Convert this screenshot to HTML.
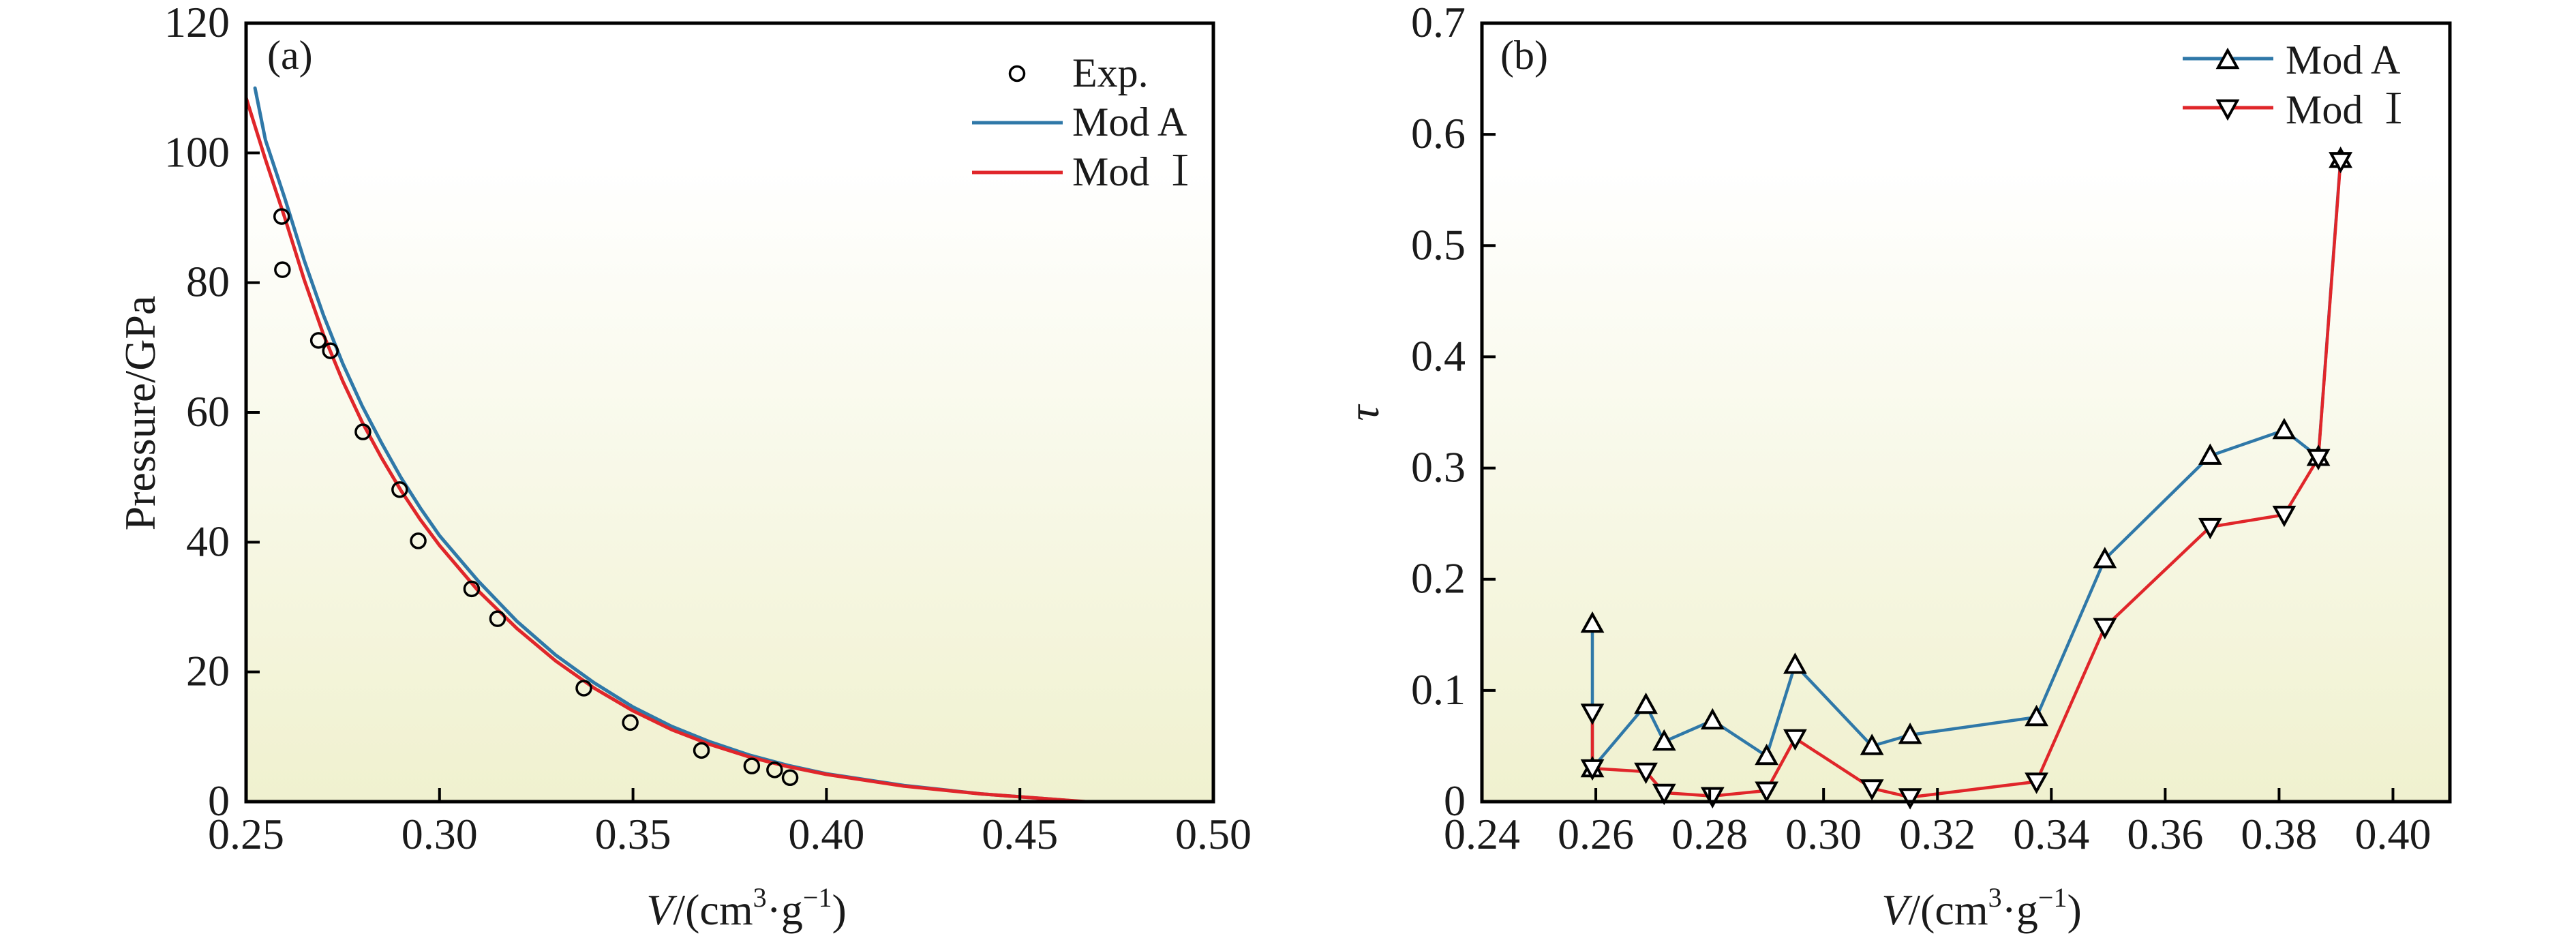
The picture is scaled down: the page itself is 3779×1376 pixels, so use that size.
<!DOCTYPE html>
<html><head><meta charset="utf-8">
<style>
html,body{margin:0;padding:0;background:#fff;}
svg{display:block;}
svg text{font-family:"Liberation Serif","Noto Serif CJK SC",serif;}
</style></head>
<body>
<svg id="fig" width="3779" height="1376" viewBox="0 0 3779 1376" xmlns="http://www.w3.org/2000/svg" font-family="Liberation Serif, Noto Serif CJK SC, serif">
<defs>
<linearGradient id="bg" x1="0" y1="0" x2="0" y2="1">
<stop offset="0" stop-color="#ffffff"/>
<stop offset="0.18" stop-color="#ffffff"/>
<stop offset="1" stop-color="#f0f1cf"/>
</linearGradient>
</defs>
<g id="pa"></g>
<g id="pb"></g>
</svg>
<script>
// Panel (a) data
const expV = [0.2592,0.2594,0.2687,0.2718,0.2802,0.2897,0.2945,0.3083,0.3150,0.3373,0.3493,0.3677,0.3807,0.3866,0.3906];
const expP = [90.2,82.0,71.1,69.5,57.0,48.1,40.2,32.8,28.2,17.5,12.2,7.9,5.5,4.9,3.7];
const modAV = [0.2523,0.255,0.26,0.265,0.27,0.275,0.28,0.285,0.29,0.295,0.30,0.31,0.32,0.33,0.34,0.35,0.36,0.37,0.38,0.39,0.40,0.42,0.44,0.46,0.466];
const modAP = [110,102,93,83.5,75,67.5,61,55.3,50,45.3,41,34,27.8,22.6,18.3,14.6,11.6,9.2,7.2,5.6,4.3,2.5,1.2,0.3,0];
const modIV = [0.25,0.255,0.26,0.265,0.27,0.275,0.28,0.285,0.29,0.295,0.30,0.31,0.32,0.33,0.34,0.35,0.36,0.37,0.38,0.39,0.40,0.42,0.44,0.46,0.467];
const modIP = [108.5,99,90,80.5,72,64.8,58.5,53,48,43.5,39.5,32.5,26.7,21.7,17.5,14,11.1,8.8,6.9,5.4,4.2,2.4,1.2,0.3,0];
const aXTicks = [0.25,0.30,0.35,0.40,0.45,0.50];
const aXLabels = ["0.25","0.30","0.35","0.40","0.45","0.50"];
const aYTicks = [0,20,40,60,80,100,120];
const aYLabels = ["0","20","40","60","80","100","120"];
// Panel (b) data
const tauV = [0.2594,0.2594,0.2688,0.2720,0.2805,0.2900,0.2950,0.3085,0.3152,0.3374,0.3494,0.3679,0.3809,0.3869,0.3908];
const tauA = [0.160,0.030,0.087,0.054,0.073,0.041,0.123,0.050,0.060,0.076,0.218,0.311,0.334,0.310,0.578];
const tauI = [0.080,0.030,0.027,0.008,0.005,0.010,0.057,0.012,0.004,0.018,0.157,0.247,0.258,0.309,0.576];
const bXTicks = [0.24,0.26,0.28,0.30,0.32,0.34,0.36,0.38,0.40];
const bXLabels = ["0.24","0.26","0.28","0.30","0.32","0.34","0.36","0.38","0.40"];
const bYTicks = [0,0.1,0.2,0.3,0.4,0.5,0.6,0.7];
const bYLabels = ["0","0.1","0.2","0.3","0.4","0.5","0.6","0.7"];

const NS = "http://www.w3.org/2000/svg";
const FF = '"Liberation Serif","Noto Serif CJK SC",serif';
function mk(parent, tag, attrs, text){
  const e = document.createElementNS(NS, tag);
  for (const k in attrs) e.setAttribute(k, attrs[k]);
  if (tag === "text") e.style.fontFamily = FF;
  if (text !== undefined) e.textContent = text;
  parent.appendChild(e);
  return e;
}
const BLUE = "#2f78a8", RED = "#e0262a";

function drawPanel(g, cfg){
  const {L,R,T,B,x0,x1,y0,y1} = cfg;
  const sx = v => L + (v - x0) / (x1 - x0) * (R - L);
  const sy = v => B - (v - y0) / (y1 - y0) * (B - T);
  const bg = mk(g, "rect", {x:L, y:T, width:R-L, height:B-T, fill:"url(#bg)"});
  
  
  return {sx, sy};
}
function drawFrame(g, cfg, xt, xl, yt, yl, sx, sy){
  const {L,R,T,B} = cfg;
  xt.forEach((v,i)=>{
    const x = sx(v);
    if (Math.abs(x-L) > 2 && Math.abs(x-R) > 2) {
      const t = mk(g, "line", {x1:x, x2:x, y1:B, y2:B-20, stroke:"#000", "stroke-width":4});
      
      
    }
    const lb = mk(g, "text", {x:x, y:1245, "font-size":64, "text-anchor":"middle", fill:"#1a1a1a"}, xl[i]);
    
    
  });
  yt.forEach((v,i)=>{
    const y = sy(v);
    if (Math.abs(y-B) > 2 && Math.abs(y-T) > 2) {
      const t = mk(g, "line", {x1:L, x2:L+20, y1:y, y2:y, stroke:"#000", "stroke-width":4});
      
      
    }
    const lb = mk(g, "text", {x:L-24, y:y+20, "font-size":64, "text-anchor":"end", fill:"#1a1a1a"}, yl[i]);
    
    
  });
  const f = mk(g, "rect", {x:L, y:T, width:R-L, height:B-T, fill:"none", stroke:"#000", "stroke-width":5});
  
  
}
function pathD(xs, ys, sx, sy){
  return xs.map((v,i)=>(i?"L":"M")+sx(v).toFixed(1)+","+sy(ys[i]).toFixed(1)).join(" ");
}
function tri(g, cx, cy, up, name){
  const s = 14;
  const pts = up
    ? [[cx,cy-s],[cx-s,cy+s*0.8],[cx+s,cy+s*0.8]]
    : [[cx,cy+s],[cx-s,cy-s*0.8],[cx+s,cy-s*0.8]];
  const p = mk(g, "polygon", {points: pts.map(p=>p.join(",")).join(" "), fill:"#fff", stroke:"#000", "stroke-width":4, "stroke-linejoin":"miter"});
  
  
  return p;
}
const xTitle = '<tspan font-style="italic">V</tspan>/(cm<tspan font-size="40" dy="-26">3</tspan><tspan dy="26">·g</tspan><tspan font-size="40" dy="-26">−1</tspan><tspan dy="26">)</tspan>';

// ---------- Panel (a)
const ga = document.getElementById("pa");
const cfgA = {L:361, R:1780, T:34, B:1176, x0:0.25, x1:0.50, y0:0, y1:120};
const A = drawPanel(ga, cfgA);
const curveA = mk(ga, "path", {d:pathD(modAV, modAP, A.sx, A.sy), fill:"none", stroke:BLUE, "stroke-width":5, "stroke-linecap":"round", "stroke-linejoin":"round"});


const curveI = mk(ga, "path", {d:pathD(modIV, modIP, A.sx, A.sy), fill:"none", stroke:RED, "stroke-width":5, "stroke-linecap":"round", "stroke-linejoin":"round"});


expV.forEach((v,i)=>{
  const c = mk(ga, "circle", {cx:A.sx(v), cy:A.sy(expP[i]), r:10.5, fill:"none", stroke:"#000", "stroke-width":3.5});
  
  
});
drawFrame(ga, cfgA, aXTicks, aXLabels, aYTicks, aYLabels, A.sx, A.sy);
let t;
t = mk(ga, "text", {x:392, y:101, "font-size":60, fill:"#1a1a1a"}, "(a)");
 
t = mk(ga, "text", {x:0, y:0, "font-size":64, "text-anchor":"middle", fill:"#1a1a1a", transform:"translate(227,606) rotate(-90)"}, "Pressure/GPa");
 
t = mk(ga, "text", {x:1095, y:1356, "font-size":64, "text-anchor":"middle", fill:"#1a1a1a"});
t.innerHTML = xTitle;
 
// legend a
const lga = mk(ga, "g", {});
 
t = mk(lga, "circle", {cx:1492, cy:108, r:10.5, fill:"none", stroke:"#000", "stroke-width":3.5});
 
t = mk(lga, "text", {x:1573, y:127, "font-size":60, fill:"#1a1a1a"}, "Exp.");
 
t = mk(lga, "line", {x1:1426, x2:1559, y1:180, y2:180, stroke:BLUE, "stroke-width":5});
 
t = mk(lga, "text", {x:1573, y:199, "font-size":60, fill:"#1a1a1a"}, "Mod A");
 
t = mk(lga, "line", {x1:1426, x2:1559, y1:253, y2:253, stroke:RED, "stroke-width":5});
 
t = mk(lga, "text", {x:1573, y:272, "font-size":60, fill:"#1a1a1a"}, "Mod Ⅰ");
 

// ---------- Panel (b)
const gb = document.getElementById("pb");
const cfgB = {L:2174, R:3594, T:34, B:1176, x0:0.24, x1:0.41, y0:0, y1:0.7};
const Bs = drawPanel(gb, cfgB);
const lnA = mk(gb, "path", {d:pathD(tauV, tauA, Bs.sx, Bs.sy), fill:"none", stroke:BLUE, "stroke-width":4.5, "stroke-linejoin":"round"});
 
const lnI = mk(gb, "path", {d:pathD(tauV, tauI, Bs.sx, Bs.sy), fill:"none", stroke:RED, "stroke-width":4.5, "stroke-linejoin":"round"});
 
tauV.forEach((v,i)=>{ tri(gb, Bs.sx(v), Bs.sy(tauA[i]), true, 'mod-a-marker'); });
tauV.forEach((v,i)=>{ tri(gb, Bs.sx(v), Bs.sy(tauI[i]), false, 'mod-i-marker'); });
drawFrame(gb, cfgB, bXTicks, bXLabels, bYTicks, bYLabels, Bs.sx, Bs.sy);
t = mk(gb, "text", {x:2201, y:101, "font-size":60, fill:"#1a1a1a"}, "(b)");
 
t = mk(gb, "text", {x:0, y:0, "font-size":64, "font-style":"italic", "text-anchor":"middle", fill:"#1a1a1a", transform:"translate(2022,606) rotate(-90)"}, "τ");
 
t = mk(gb, "text", {x:2907, y:1356, "font-size":64, "text-anchor":"middle", fill:"#1a1a1a"});
t.innerHTML = xTitle;
 
const lgb = mk(gb, "g", {});
 
t = mk(lgb, "line", {x1:3202, x2:3335, y1:86, y2:86, stroke:BLUE, "stroke-width":5});
 
tri(lgb, 3268, 88, true, 'legend-mod-a-marker');
t = mk(lgb, "text", {x:3353, y:108, "font-size":60, fill:"#1a1a1a"}, "Mod A");
 
t = mk(lgb, "line", {x1:3202, x2:3335, y1:158, y2:158, stroke:RED, "stroke-width":5});
 
tri(lgb, 3268, 159, false, 'legend-mod-i-marker');
t = mk(lgb, "text", {x:3353, y:181, "font-size":60, fill:"#1a1a1a"}, "Mod Ⅰ");
 
</script>
</body></html>
